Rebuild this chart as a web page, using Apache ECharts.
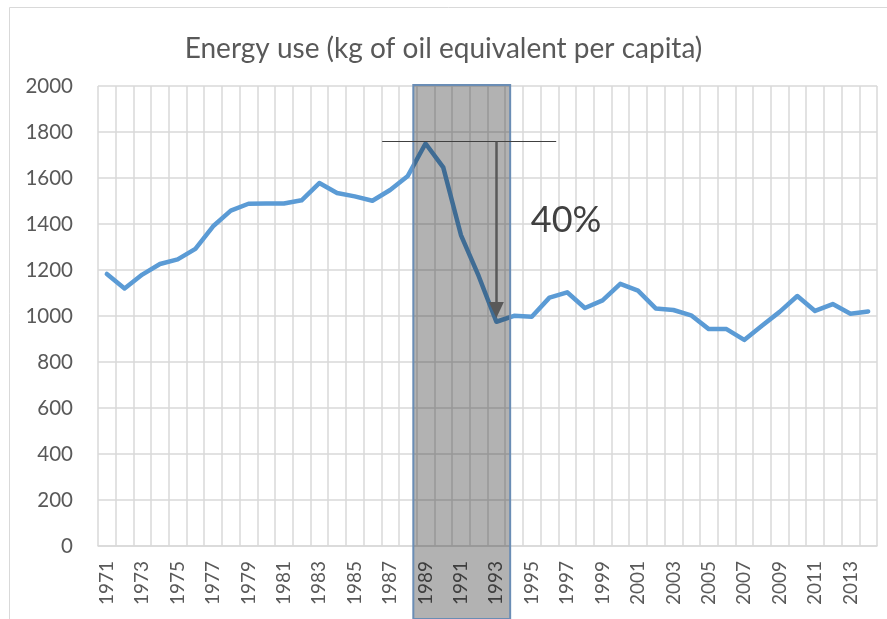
<!DOCTYPE html>
<html>
<head>
<meta charset="utf-8">
<script src="https://cdn.jsdelivr.net/npm/echarts@6/dist/echarts.min.js"></script>
<style>
html,body{margin:0;padding:0;background:#fff;}
#chart{width:887px;height:619px;}
</style>
</head>
<body>
<div id="chart"></div>
<script>
const titleText = 'Energy use (kg of oil equivalent per capita)';
const years = ['1971','1972','1973','1974','1975','1976','1977','1978','1979','1980',
  '1981','1982','1983','1984','1985','1986','1987','1988','1989','1990',
  '1991','1992','1993','1994','1995','1996','1997','1998','1999','2000',
  '2001','2002','2003','2004','2005','2006','2007','2008','2009','2010',
  '2011','2012','2013','2014'];
const energyUse = [1183,1120,1180,1226,1246,1292,1390,1458,1488,1489,
  1489,1503,1578,1535,1520,1501,1548,1609,1750,1646,
  1352,1174,975,1001,997,1080,1103,1035,1068,1140,
  1110,1033,1026,1003,943,943,896,958,1018,1087,
  1022,1052,1010,1020];
const yTicks = {min: 0, max: 2000, interval: 200};
// annotation positions in category-index units
const shadeRange = [17.31, 22.78];
const peakLevel = 1758;
const peakLineRange = [15.55, 25.38];
const arrowIndex = 22;
const arrowEndValue = 1026;
const dropLabel = '40%';
const dropLabelPos = [25.94, 1417];

const chart = echarts.init(document.getElementById('chart'));
const font = 'Lato';
const txt = '#595959';
const gridCol = '#d9d9d9';

chart.setOption({
  animation: false,
  backgroundColor: '#fff',
  title: {
    text: titleText, left: 'center', top: 30,
    textStyle: {fontFamily: font, fontSize: 28, fontWeight: 'normal', color: txt}
  },
  graphic: [{
    type: 'rect', shape: {x: 9.5, y: 7.5, width: 900, height: 700},
    style: {fill: 'none', stroke: gridCol, lineWidth: 1}, silent: true, z: -1
  }],
  grid: [
    {left: 98, right: 10, top: 86, bottom: 73, containLabel: false},
    {left: 98, right: 10, top: 85, bottom: 0, containLabel: false}
  ],
  xAxis: [
    {
      type: 'category', data: years, gridIndex: 0, boundaryGap: true,
      axisLine: {show: true, lineStyle: {color: gridCol, width: 1.5}},
      axisTick: {show: false},
      axisLabel: {interval: 1, rotate: 90, margin: 15, fontFamily: font, fontSize: 19, color: txt},
      splitLine: {show: true, interval: 0, lineStyle: {color: gridCol, width: 1.5}}
    },
    {type: 'value', gridIndex: 0, min: -0.5, max: years.length - 0.5, show: false},
    {type: 'value', gridIndex: 1, min: -0.5, max: years.length - 0.5, show: false}
  ],
  yAxis: [
    {
      type: 'value', gridIndex: 0, min: yTicks.min, max: yTicks.max, interval: yTicks.interval,
      axisLine: {show: false}, axisTick: {show: false},
      axisLabel: {margin: 25, fontFamily: font, fontSize: 20.5, color: txt, formatter: v => String(v)},
      splitLine: {show: true, lineStyle: {color: gridCol, width: 1.5}}
    },
    {type: 'value', gridIndex: 1, min: 0, max: 1, show: false}
  ],
  series: [
    {
      type: 'line', name: 'Energy use', data: energyUse,
      xAxisIndex: 0, yAxisIndex: 0, showSymbol: false, symbol: 'none', z: 2,
      lineStyle: {color: '#5b9bd5', width: 4.5, cap: 'round', join: 'round'}
    },
    {
      type: 'line', data: [], xAxisIndex: 2, yAxisIndex: 1, clip: false,
      markArea: {
        silent: true, z: 5,
        itemStyle: {color: 'rgba(0,0,0,0.3)', borderColor: '#6a8db5', borderWidth: 2},
        data: [[{coord: [shadeRange[0], 0]}, {coord: [shadeRange[1], 1]}]]
      }
    },
    {
      type: 'line', data: [], xAxisIndex: 1, yAxisIndex: 0, clip: false,
      markLine: {
        silent: true, z: 7, animation: false,
        label: {show: false},
        data: [
          [{coord: [peakLineRange[0], peakLevel], symbol: 'none', lineStyle: {color: '#404040', width: 1, type: 'solid'}},
           {coord: [peakLineRange[1], peakLevel], symbol: 'none'}],
          [{coord: [arrowIndex, peakLevel], symbol: 'none', lineStyle: {color: '#595959', width: 2.5, type: 'solid'}},
           {coord: [arrowIndex, arrowEndValue], symbol: 'triangle', symbolSize: [15, 16]}]
        ]
      },
      markPoint: {
        silent: true, z: 7,
        symbol: 'circle', symbolSize: 1, itemStyle: {color: 'rgba(0,0,0,0)'},
        label: {show: true, position: 'inside', formatter: dropLabel, fontFamily: font, fontSize: 36, color: '#404040'},
        data: [{coord: dropLabelPos}]
      }
    }
  ]
});
</script>
</body>
</html>
